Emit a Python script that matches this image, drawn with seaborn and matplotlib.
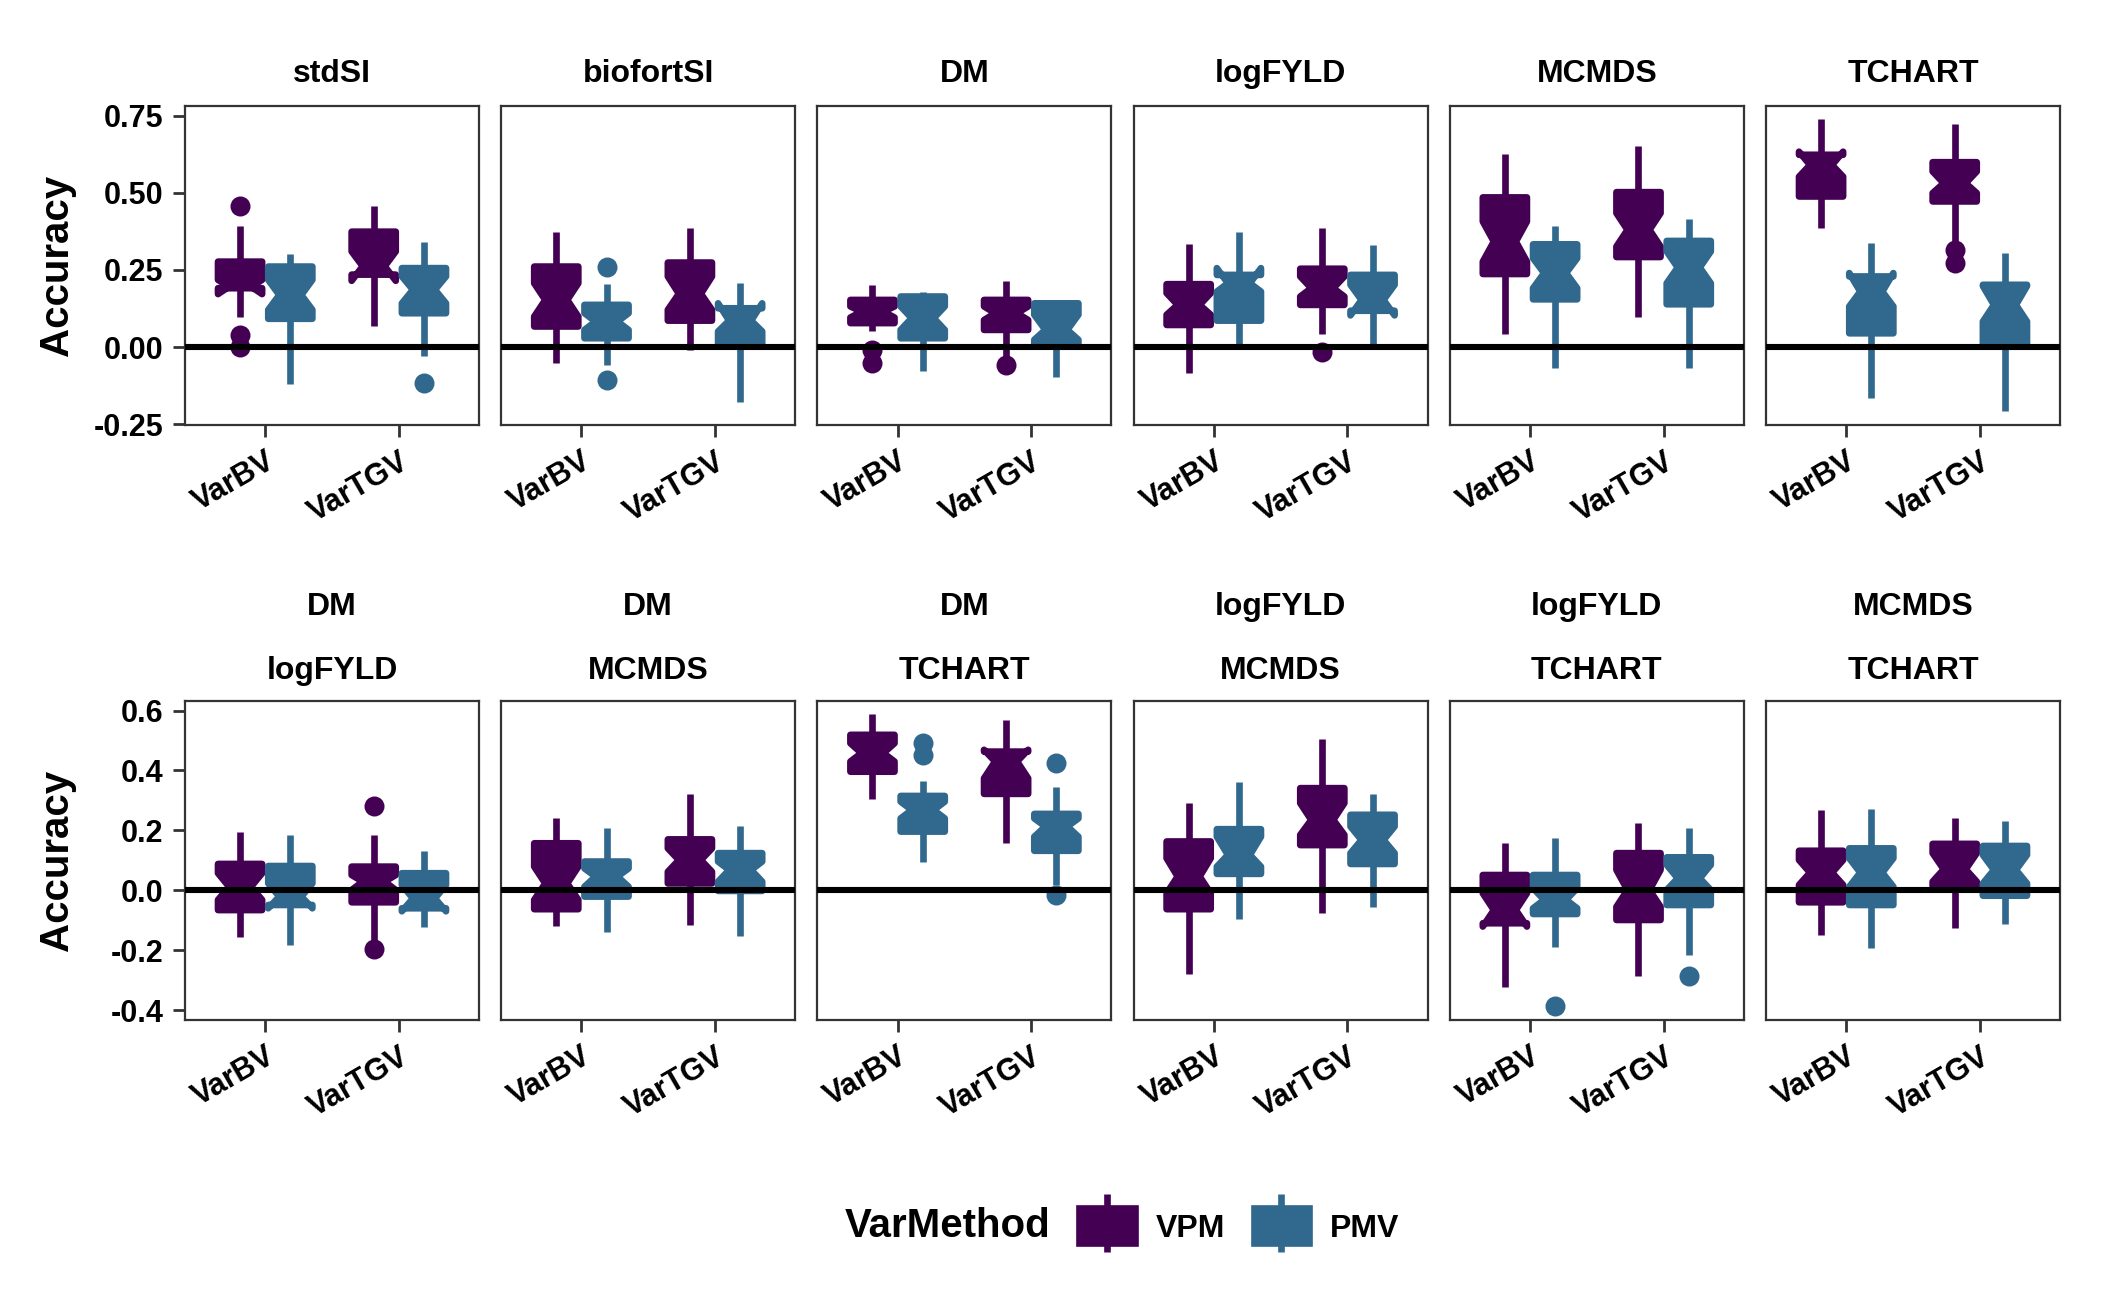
import seaborn as sns
import matplotlib.pyplot as plt
from matplotlib.patches import Patch
from matplotlib.lines import Line2D
from matplotlib.legend_handler import HandlerTuple

# facets: top row single traits, bottom row trait pairs
strip_top = ["stdSI", "biofortSI", "DM", "logFYLD", "MCMDS", "TCHART",
             "DM", "DM", "DM", "logFYLD", "logFYLD", "MCMDS"]
strip_bottom = [None] * 6 + ["logFYLD", "MCMDS", "TCHART", "MCMDS", "TCHART", "TCHART"]

categories = ["VarBV", "VarTGV"]
methods = ["VPM", "PMV"]

# box order in each facet: VarBV-VPM, VarBV-PMV, VarTGV-VPM, VarTGV-PMV
whishi = [
    [0.394, 0.301, 0.458, 0.342],
    [0.372, 0.205, 0.387, 0.207],
    [0.200, 0.180, 0.213, 0.151],
    [0.335, 0.372, 0.385, 0.331],
    [0.625, 0.393, 0.653, 0.414],
    [0.738, 0.338, 0.723, 0.305],
    [0.194, 0.183, 0.185, 0.132],
    [0.240, 0.207, 0.321, 0.215],
    [0.588, 0.366, 0.569, 0.344],
    [0.291, 0.361, 0.504, 0.322],
    [0.157, 0.174, 0.224, 0.209],
    [0.268, 0.271, 0.240, 0.232],
]
q3 = [
    [0.277, 0.261, 0.374, 0.256],
    [0.261, 0.137, 0.274, 0.126],
    [0.153, 0.164, 0.153, 0.142],
    [0.204, 0.234, 0.254, 0.234],
    [0.485, 0.333, 0.502, 0.344],
    [0.623, 0.229, 0.599, 0.202],
    [0.088, 0.081, 0.079, 0.057],
    [0.157, 0.096, 0.170, 0.124],
    [0.519, 0.315, 0.463, 0.255],
    [0.163, 0.204, 0.341, 0.252],
    [0.051, 0.051, 0.124, 0.110],
    [0.132, 0.140, 0.155, 0.148],
]
notch_hi = [
    [0.218, 0.218, 0.310, 0.229],
    [0.207, 0.110, 0.229, 0.142],
    [0.132, 0.132, 0.132, 0.105],
    [0.175, 0.256, 0.229, 0.202],
    [0.407, 0.288, 0.434, 0.310],
    [0.633, 0.240, 0.569, 0.198],
    [0.057, 0.023, 0.051, 0.018],
    [0.079, 0.073, 0.140, 0.096],
    [0.491, 0.296, 0.469, 0.240],
    [0.107, 0.179, 0.291, 0.213],
    [-0.010, 0.007, 0.068, 0.085],
    [0.101, 0.107, 0.124, 0.118],
]
median = [
    [0.196, 0.169, 0.262, 0.186],
    [0.153, 0.083, 0.173, 0.086],
    [0.115, 0.094, 0.110, 0.056],
    [0.137, 0.207, 0.191, 0.153],
    [0.342, 0.240, 0.380, 0.258],
    [0.590, 0.180, 0.531, 0.137],
    [0.012, -0.021, 0.029, -0.027],
    [0.023, 0.046, 0.101, 0.068],
    [0.458, 0.268, 0.430, 0.213],
    [0.046, 0.118, 0.235, 0.168],
    [-0.066, -0.032, 0.001, 0.040],
    [0.059, 0.059, 0.070, 0.068],
]
notch_lo = [
    [0.172, 0.121, 0.215, 0.142],
    [0.099, 0.056, 0.121, 0.051],
    [0.096, 0.056, 0.088, 0.024],
    [0.105, 0.180, 0.164, 0.103],
    [0.277, 0.191, 0.326, 0.207],
    [0.552, 0.132, 0.499, 0.083],
    [-0.032, -0.060, 0.001, -0.070],
    [-0.032, 0.012, 0.062, 0.029],
    [0.430, 0.240, 0.374, 0.179],
    [-0.010, 0.079, 0.185, 0.124],
    [-0.121, -0.060, -0.055, 0.001],
    [0.018, 0.012, 0.029, 0.023],
]
q1 = [
    [0.191, 0.092, 0.235, 0.110],
    [0.067, 0.029, 0.086, 0.002],
    [0.078, 0.029, 0.056, 0.010],
    [0.072, 0.086, 0.137, 0.118],
    [0.237, 0.155, 0.292, 0.139],
    [0.488, 0.045, 0.472, 0.005],
    [-0.066, -0.049, -0.040, -0.060],
    [-0.063, -0.021, 0.023, -0.002],
    [0.396, 0.196, 0.322, 0.132],
    [-0.063, 0.055, 0.151, 0.088],
    [-0.110, -0.079, -0.099, -0.049],
    [-0.040, -0.049, 0.004, -0.018],
]
whislo = [
    [0.097, -0.119, 0.069, -0.027],
    [-0.052, -0.057, -0.009, -0.176],
    [0.054, -0.076, -0.036, -0.095],
    [-0.084, 0.002, 0.042, 0.008],
    [0.044, -0.068, 0.099, -0.068],
    [0.387, -0.165, 0.331, -0.206],
    [-0.155, -0.183, -0.171, -0.124],
    [-0.118, -0.140, -0.116, -0.151],
    [0.305, 0.094, 0.157, 0.018],
    [-0.279, -0.097, -0.075, -0.055],
    [-0.322, -0.190, -0.286, -0.216],
    [-0.149, -0.191, -0.127, -0.114],
]
outliers = [
    [[0.458, 0.038, 0.002], [], [], [-0.117]],
    [[], [0.261, -0.106], [], []],
    [[-0.009, -0.052], [], [-0.059], []],
    [[], [], [-0.016], []],
    [[], [], [], []],
    [[], [], [0.315, 0.272], []],
    [[], [], [0.282, -0.197], []],
    [[], [], [], []],
    [[], [0.491, 0.452], [], [0.424, -0.016]],
    [[], [], [], []],
    [[], [-0.386], [], [-0.286]],
    [[], [], [], []],
]

top_ticks = [-0.25, 0.0, 0.25, 0.50, 0.75]
bottom_ticks = [-0.4, -0.2, 0.0, 0.2, 0.4, 0.6]

palette = sns.color_palette(["#440154", "#31688E"])

sns.set_theme(style="ticks")
plt.rcParams["font.family"] = ["Liberation Sans", "DejaVu Sans"]
plt.rcParams["font.weight"] = "bold"
plt.rcParams["text.color"] = "black"
plt.rcParams["axes.unicode_minus"] = False

W, H = 2102, 1314
fig = plt.figure(figsize=(W / 200, H / 200), dpi=200)

lw = 2.4
for p in range(12):
    row, col = divmod(p, 6)
    left = 185 + col * 316.2
    top = 105.7 if row == 0 else 700.7
    ax = fig.add_axes([left / W, 1 - (top + 319.3) / H, 294 / W, 319.3 / H])

    for b in range(4):
        cat, m = divmod(b, 2)
        c = palette[m]
        pos = cat + 1 + (-0.188 if m == 0 else 0.188)
        stats = [dict(med=median[p][b], q1=q1[p][b], q3=q3[p][b],
                      whislo=whislo[p][b], whishi=whishi[p][b],
                      cilo=notch_lo[p][b], cihi=notch_hi[p][b],
                      fliers=outliers[p][b])]
        ax.bxp(stats, positions=[pos], widths=0.33, shownotches=True,
               patch_artist=True, showcaps=False,
               boxprops=dict(facecolor=c, edgecolor=c, linewidth=lw, joinstyle="round"),
               whiskerprops=dict(color=c, linewidth=lw, solid_capstyle="butt"),
               medianprops=dict(color=c, linewidth=0),
               flierprops=dict(marker="o", markerfacecolor=c, markeredgecolor=c,
                               markersize=6.2, linestyle="none"))

    ax.axhline(0, color="black", linewidth=2.2, zorder=5)
    ax.set_xlim(0.4, 2.6)
    ax.set_xticks([1, 2])
    ax.set_xticklabels(categories, rotation=30, ha="right", rotation_mode="anchor",
                       fontsize=11, fontweight="bold", color="black")
    if row == 0:
        ax.set_ylim(-0.252, 0.782)
        ax.set_yticks(top_ticks)
        ax.set_yticklabels([f"{t:.2f}" for t in top_ticks])
    else:
        ax.set_ylim(-0.433, 0.633)
        ax.set_yticks(bottom_ticks)
        ax.set_yticklabels([f"{t:.1f}" for t in bottom_ticks])
    ax.tick_params(axis="both", colors="#333333", width=1.0, length=4.2,
                   labelcolor="black", labelsize=11)
    for lab in ax.get_yticklabels():
        lab.set_fontweight("bold")
    if col != 0:
        ax.tick_params(axis="y", length=0, labelleft=False)
    for s in ax.spines.values():
        s.set_color("#333333")
        s.set_linewidth(0.8)
    ax.set_xlabel("")
    ax.set_ylabel("")

    if strip_bottom[p] is None:
        ax.annotate(strip_top[p], (0.5, 1), xycoords="axes fraction",
                    xytext=(0, 11.4), textcoords="offset points", color="black",
                    ha="center", va="center", fontsize=11.5, fontweight="bold")
    else:
        ax.annotate(strip_top[p], (0.5, 1), xycoords="axes fraction",
                    xytext=(0, 33.8), textcoords="offset points", color="black",
                    ha="center", va="center", fontsize=11.5, fontweight="bold")
        ax.annotate(strip_bottom[p], (0.5, 1), xycoords="axes fraction",
                    xytext=(0, 10.8), textcoords="offset points", color="black",
                    ha="center", va="center", fontsize=11.5, fontweight="bold")

for yc in [(105.7 + 425) / 2, (700.7 + 1020) / 2]:
    fig.text(57 / W, 1 - yc / H, "Accuracy", rotation=90, ha="center", va="center",
             fontsize=14.5, fontweight="bold", color="black")

fig.text(845 / W, 1 - 1226 / H, "VarMethod", ha="left", va="center",
         fontsize=14.5, fontweight="bold", color="black")
handles = [(Line2D([], [], marker="|", color=c, markersize=21, markeredgewidth=2.4,
                   linestyle="none"),
            Patch(facecolor=c, edgecolor=c, linewidth=lw, joinstyle="round"))
           for c in palette]
leg = fig.legend(handles, methods, loc="center left",
                 bbox_to_anchor=(1050 / W, 1 - 1226 / H),
                 ncol=2, frameon=False, handler_map={tuple: HandlerTuple(ndivide=1)},
                 handlelength=1.75, handleheight=1.3, handletextpad=0.65, columnspacing=0.9,
                 prop=dict(weight="bold", size=11.5))
for t in leg.get_texts():
    t.set_color("black")

fig.savefig("out.png", dpi=200, facecolor="white")
